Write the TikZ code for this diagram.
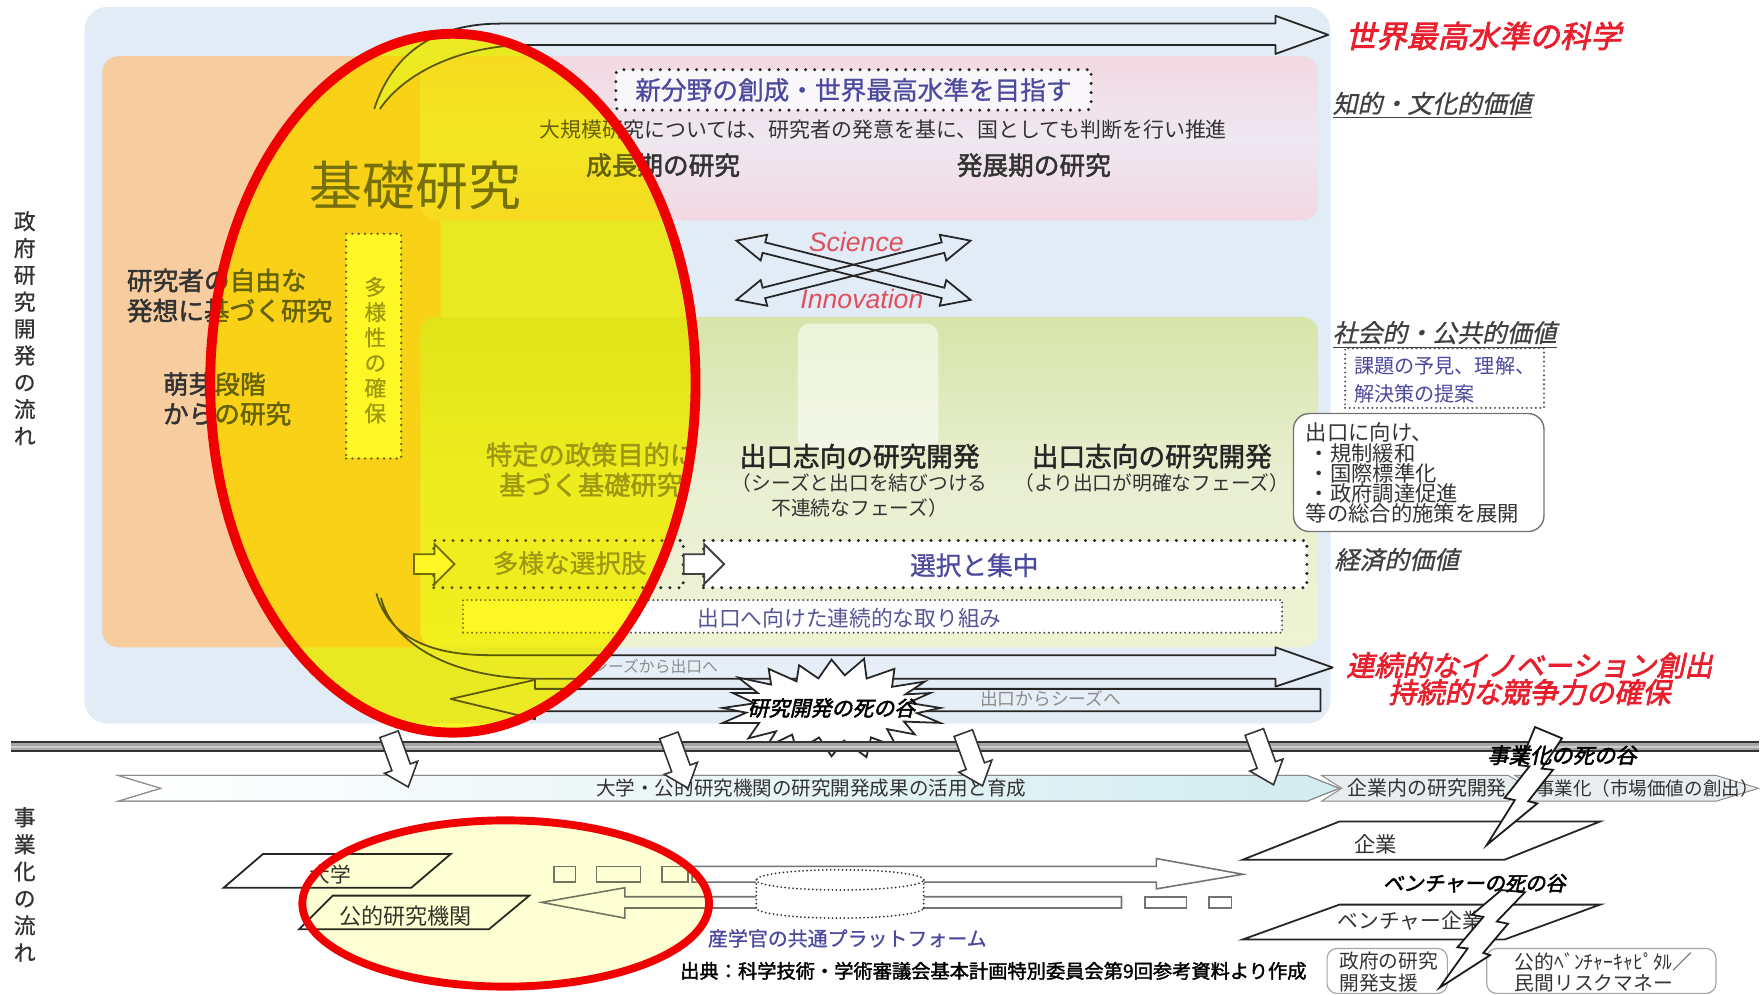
\documentclass[tikz,border=0pt]{standalone}
\usepackage{fontspec}
\setmainfont{Noto Sans CJK JP}
\newfontfamily\jp{Noto Sans CJK JP}
\newfontfamily\jpm{Noto Sans CJK JP}[FakeBold=0.8]
\newfontfamily\jpb{Noto Sans CJK JP}[FakeBold=1.8]
\newfontfamily\jpi{Noto Sans CJK JP}[FakeSlant=0.22,FakeBold=0.8]
\newfontfamily\jpbi{Noto Sans CJK JP}[FakeSlant=0.22,FakeBold=2.4]
\newfontfamily\arl{Liberation Sans}
\newcommand\fsz[2]{\fontsize{#1pt}{#2pt}\selectfont}
\usetikzlibrary{shapes.arrows}
\definecolor{bgblue}{HTML}{E2ECF7}
\definecolor{orng}{HTML}{F7CDA0}
\definecolor{pinkA}{HTML}{F3D8E1}
\definecolor{pinkB}{HTML}{EEE8F1}
\definecolor{grnA}{HTML}{D6E5AA}
\definecolor{grnB}{HTML}{E9EFD2}
\definecolor{grnC}{HTML}{EEF3D2}
\definecolor{navy}{HTML}{4B4A9E}
\definecolor{redt}{HTML}{E8202E}
\definecolor{redl}{HTML}{F00000}
\definecolor{ylw}{RGB}{255,250,50}
\definecolor{ylw2}{RGB}{255,255,212}
\definecolor{scired}{HTML}{E0505C}
\definecolor{txtg}{HTML}{7E7E7E}
\definecolor{txtd}{HTML}{333333}
\definecolor{arrowfill}{HTML}{E6EEF8}
\definecolor{bandcyan}{HTML}{D3ECEF}
\definecolor{bandgray}{HTML}{E8EDEF}
\tikzset{
 t/.style={inner sep=0pt, outer sep=0pt},
 arrline/.style={draw=black!85, line width=0.9pt, line join=round},
 dotbig/.style={draw=black!85, line width=1.7pt, dash pattern=on 0pt off 4.6pt, line cap=round},
 dotmid/.style={draw=black!80, line width=1.3pt, dash pattern=on 0pt off 3.2pt, line cap=round},
 dotsmall/.style={draw=black!70, line width=1.1pt, dash pattern=on 0pt off 2.3pt, line cap=round},
 cyl/.style={draw=black!80, line width=1pt, dash pattern=on 0pt off 2pt, line cap=round},
 xarrow/.style={double arrow, draw=black!85, line width=0.9pt, minimum height=4.3cm, inner xsep=0pt, inner ysep=0.08cm, double arrow head extend=0.14cm, double arrow tip angle=50},
 dnarrow/.style={single arrow, draw=black!80, fill=white, line width=0.8pt, minimum height=1cm, inner xsep=0pt, inner ysep=0.16cm, single arrow head extend=0.14cm, single arrow tip angle=80, rotate=-70},
 harrow/.style={single arrow, draw=black!75, fill=white, line width=0.9pt, minimum height=0.72cm, inner xsep=0pt, inner ysep=0.16cm, single arrow head extend=0.18cm},
 para/.style={draw=black!85, line width=0.9pt, fill=white},
 band/.style={draw=black!45, line width=0.5pt},
 bolt/.style={draw=black!90, line width=0.9pt, fill=white, line join=miter},
 gbox/.style={draw=black!35, line width=0.6pt, rounded corners=5pt},
 plat/.style={draw=black!55, line width=0.8pt, fill=white},
}
\begin{document}
\begin{tikzpicture}[x=0.02cm,y=-0.02cm]
\useasboundingbox (0,0) rectangle (1568,884.6);
\fill[white] (0,0) rectangle (1568,884.6);

% ---------- backgrounds
\fill[bgblue, rounded corners=12] (75,6) rectangle (1184,644);
\fill[orng, rounded corners=8] (91,50) rectangle (392,576);
\shade[top color=pinkA, bottom color=pinkA, middle color=pinkB, rounded corners=8] (374,50) rectangle (1173,196);
\shade[top color=grnA, bottom color=grnC, middle color=grnB, rounded corners=8] (374,282) rectangle (1173,576);
\fill[white, opacity=0.55, rounded corners=6] (710,288) rectangle (835,400);

% ---------- left side titles
\node[t, align=center, font=\jpm\fsz{11}{13.6}, text=txtd] (gov) at (22,292) {政\\府\\研\\究\\開\\発\\の\\流\\れ};
\node[t, align=center, font=\jpm\fsz{11}{13.7}, text=txtd] (biz) at (22,787) {事\\業\\化\\の\\流\\れ};

% ---------- top arrow (world-class science)
\draw[arrline, fill=arrowfill] (333,97) .. controls (350,45) and (390,21) .. (445,21) -- (1135,21) -- (1135,14) -- (1182,31) -- (1135,48) -- (1135,40) -- (470,40) .. controls (415,40) and (362,62) .. (338,97);

% ---------- pink band contents
\node[t, dotbig, fill=white!65!pinkB, minimum width=8.46cm, minimum height=0.72cm, rounded corners=2pt] (nfbox) at (759.5,80) {};
\node[t, font=\jpm\fsz{13}{13}, text=navy] (nf) at (nfbox.center) {新分野の創成・世界最高水準を目指す};
\node[t, font=\jp\fsz{10.6}{10.6}, text=txtd] (large) at (786,115) {大規模研究については、研究者の発意を基に、国としても判断を行い推進};
\node[t, font=\jpb\fsz{13}{13}, text=txtd] (grow) at (590,147) {成長期の研究};
\node[t, font=\jpb\fsz{13}{13}, text=txtd] (dev) at (920,147) {発展期の研究};
\node[t, font=\jp\fsz{26.8}{26.8}, text=black!72] (kiso) at (370,165) {基礎研究};

% ---------- science / innovation cross
\node[xarrow, rotate=-14.2] (xa) at (759.5,240.5) {};
\node[xarrow, rotate=14.2] (xb) at (759.5,240.5) {};
\node[t, font=\arl\itshape\fsz{13.5}{13.5}, text=scired] (sci) at (762,215) {Science};
\node[t, font=\arl\itshape\fsz{13.5}{13.5}, text=scired] (inno) at (767,266) {Innovation};

% ---------- orange area texts
\node[t, anchor=west, align=left, font=\jpb\fsz{13}{15.3}, text=txtd] (free) at (113,263) {研究者の自由な\\発想に基づく研究};
\node[t, anchor=west, align=left, font=\jpb\fsz{13}{15}, text=txtd] (germ) at (145,355) {萌芽段階\\からの研究};
\node[t, dotmid, fill=white, minimum width=0.98cm, minimum height=4cm] (divbox) at (332.5,308) {};
\node[t, align=center, font=\jpm\fsz{11}{12.8}, text=txtg] (div) at (334,311.5) {多\\様\\性\\の\\確\\保};

% ---------- green band texts
\node[t, align=center, font=\jpb\fsz{13.3}{15.3}, text=txtg] (policy) at (526,418) {特定の政策目的に\\基づく基礎研究};
\node[t, font=\jpb\fsz{13.5}{13.5}, text=black!85] (exit1) at (765,406) {出口志向の研究開発};
\node[t, align=center, font=\jp\fsz{10}{12.5}, text=txtd] (exit1s) at (765,441) {（シーズと出口を結びつける\\不連続なフェーズ）};
\node[t, font=\jpb\fsz{13.5}{13.5}, text=black!85] (exit2) at (1025,406) {出口志向の研究開発};
\node[t, font=\jp\fsz{10}{10}, text=txtd] (exit2s) at (1025,430) {（より出口が明確なフェーズ）};

% ---------- dotted boxes row
\node[t, dotbig, minimum width=4.44cm, minimum height=0.84cm] (tayobox) at (497,502) {};
\node[t, font=\jpm\fsz{13}{13}, text=txtg] (tayo) at (507,501) {多様な選択肢};
\node[t, dotbig, fill=white, minimum width=10.74cm, minimum height=0.84cm] (selbox) at (894.5,502) {};
\node[t, font=\jpm\fsz{13}{13}, text=navy] (sel) at (867,503) {選択と集中};
\node[harrow] (ha1) at (382,502) {};
\node[harrow] (ha2) at (622,502) {};
\node[t, dotsmall, fill=white, minimum width=14.58cm, minimum height=0.58cm] (contbox) at (776.5,548.5) {};
\node[t, font=\jp\fsz{11}{11}, text=navy!80!gray] (cont) at (756,550) {出口へ向けた連続的な取り組み};

% ---------- lower arrows of upper part
\draw[arrline, fill=arrowfill] (335,528) .. controls (345,565) and (380,583) .. (435,583) -- (1135,583) -- (1135,576) -- (1186,594) -- (1135,611) -- (1135,604) -- (480,604) .. controls (405,604) and (350,575) .. (339,532);
\node[t, font=\jp\fsz{8}{8}, text=black!45] (s2e) at (583,593) {シーズから出口へ};
\draw[arrline, fill=arrowfill] (401,622) -- (476,605) -- (476,613) -- (1175,613) -- (1175,633) -- (476,633) -- (476,640) -- cycle;
\node[t, font=\jp\fsz{9}{9}, text=black!45] (e2s) at (935,622) {出口からシーズへ};
\draw[draw=black!85, line width=0.9pt, fill=white, line join=miter] plot[samples at={0,9,...,351}] ({740+(97-24*mod(round(\x/9),2))*(1+0.06*sin(7*\x))*cos(\x)}, {630+(43-15*mod(round(\x/9),2))*(1+0.07*cos(5*\x))*sin(\x)}) -- cycle;
\node[t, font=\jpbi\fsz{10.6}{10.6}] (valley) at (740,630) {研究開発の死の谷};

% ---------- separator
\fill[black!35] (10,660) rectangle (1565,669);
\draw[black!80, line width=0.8pt] (10,660.5) -- (1565,660.5);
\draw[black!80, line width=0.8pt] (10,668.5) -- (1565,668.5);
\draw[white!80!black, line width=0.9pt] (10,664.5) -- (1565,664.5);

% ---------- timeline bands
\shade[band, left color=white, right color=bandcyan] (105,690) -- (1163,690) -- (1192,701.5) -- (1163,713) -- (105,713) -- (143,701.5) -- cycle;
\draw[band] (105,690) -- (1163,690) -- (1192,701.5) -- (1163,713) -- (105,713) -- (143,701.5) -- cycle;
\filldraw[band, fill=bandgray] (1176,690) -- (1342,690) -- (1362,701.5) -- (1342,713) -- (1176,713) -- (1194,701.5) -- cycle;
\filldraw[band, fill=bandgray] (1348,690) -- (1527,690) -- (1565,701.5) -- (1527,713) -- (1348,713) -- (1367,701.5) -- cycle;
\node[t, font=\jp\fsz{9.9}{9.9}, text=txtd] (tl1) at (722,701.5) {大学・公的研究機関の研究開発成果の活用と育成};
\node[t, font=\jp\fsz{10.1}{10.1}, text=txtd] (tl2) at (1270,701.5) {企業内の研究開発};
\node[t, font=\jp\fsz{9.4}{9.4}, text=txtd] (tl3) at (1466,701.5) {事業化（市場価値の創出）};

% ---------- down arrows
\node[dnarrow] (da1) at (353,672) {};
\node[dnarrow] (da2) at (602,673) {};
\node[dnarrow] (da3) at (864,671) {};
\node[dnarrow] (da4) at (1123,670) {};

% ---------- parallelograms
\filldraw[para] (234,760) -- (401,760) -- (366,790) -- (199,790) -- cycle;
\node[t, font=\jp\fsz{10.5}{10.5}, text=txtd] (univ) at (294,778) {大学};
\filldraw[para] (296,797) -- (471,797) -- (435,827) -- (266,827) -- cycle;
\node[t, font=\jp\fsz{11.2}{11.2}, text=txtd] (pub) at (361,815) {公的研究機関};
\filldraw[para] (1192,731) -- (1424,731) -- (1339,765) -- (1106,765) -- cycle;
\node[t, font=\jp\fsz{10.8}{10.8}, text=txtd] (corp) at (1224,751) {企業};
\filldraw[para] (1192,805) -- (1424,805) -- (1339,836) -- (1106,836) -- cycle;
\node[t, font=\jp\fsz{10.5}{10.5}, text=txtd] (vent) at (1255,819) {ベンチャー企業};

% ---------- platform arrows and cylinder
\draw[plat] (493,771) rectangle (512,785);
\draw[plat] (531,771) rectangle (570,785);
\draw[plat] (589,771) rectangle (612,785);
\draw[plat] (616,771) -- (1029,771) -- (1029,764) -- (1106,778) -- (1029,791) -- (1029,785) -- (616,785) -- cycle;
\draw[plat] (482,803) -- (556,790) -- (556,798) -- (998,798) -- (998,808) -- (556,808) -- (556,817) -- cycle;
\draw[plat] (1019,798) rectangle (1056,808);
\draw[plat] (1076,798) rectangle (1096,808);
\fill[white] (747.5,808) ellipse [x radius=1.49cm, y radius=0.18cm];
\draw[cyl] (747.5,808) ellipse [x radius=1.49cm, y radius=0.18cm];
\fill[white] (673,783) rectangle (822,808);
\draw[cyl] (673,783) -- (673,808);
\draw[cyl] (822,783) -- (822,808);
\filldraw[cyl, fill=white] (747.5,783) ellipse [x radius=1.49cm, y radius=0.18cm];
\node[t, font=\jpm\fsz{10.1}{10.1}, text=navy] (platform) at (754,835) {産学官の共通プラットフォーム};
\node[t, font=\jpb\fsz{9.75}{9.75}] (src) at (884,864) {出典：科学技術・学術審議会基本計画特別委員会第9回参考資料より作成};

% ---------- bottom-right boxes
\node[t, gbox, minimum width=2.14cm, minimum height=0.8cm] (govbox) at (1234.5,864) {};
\node[t, anchor=west, align=left, font=\jp\fsz{10}{10.8}, text=txtd] (govs) at (1192,865) {政府の研究\\開発支援};
\node[t, gbox, minimum width=4.08cm, minimum height=0.8cm] (vcbox) at (1425,864) {};
\node[t, anchor=west, align=left, font=\jp\fsz{10}{10.8}, text=txtd] (vc) at (1348,865) {公的ﾍﾞﾝﾁｬｰｷｬﾋﾟﾀﾙ／\\民間リスクマネー};

% ---------- lightning bolts
\filldraw[bolt] (1366,647) -- (1390,657) -- (1372,684) -- (1382,685) -- (1360,713) -- (1368,715) -- (1323,752) -- (1348,712) -- (1339,710) -- (1361,682) -- (1352,681) -- cycle;
\node[t, font=\jpbi\fsz{10.8}{10.8}] (bizvalley) at (1390,672) {事業化の死の谷};
\filldraw[bolt] (1336,792) -- (1357,794) -- (1332,820) -- (1342,822) -- (1320,848) -- (1326,850) -- (1281,879) -- (1306,844) -- (1297,843) -- (1320,816) -- (1310,814) -- cycle;
\node[t, font=\jpbi\fsz{10.3}{10.3}] (ventvalley) at (1312,786) {ベンチャーの死の谷};

% ---------- right-side labels
\node[t, anchor=west, font=\jpi\fsz{12.6}{12.6}, text=black!75] (chiteki) at (1186,92) {知的・文化的価値};
\draw[black!75, line width=0.6pt] ([yshift=-1.5pt]chiteki.south west) -- ([yshift=-1.5pt]chiteki.south east);
\node[t, anchor=west, font=\jpi\fsz{12.6}{12.6}, text=black!75] (shakai) at (1186,296) {社会的・公共的価値};
\draw[black!75, line width=0.6pt] ([yshift=-1.5pt]shakai.south west) -- ([yshift=-1.5pt]shakai.south east);
\node[t, dotsmall, minimum width=3.54cm, minimum height=1.06cm] (kadaibox) at (1285.5,336.5) {};
\node[t, anchor=west, align=left, font=\jp\fsz{10.2}{14.2}, text=navy] (kadai) at (1205,338) {課題の予見、理解、\\解決策の提案};
\node[t, draw=black!55, line width=0.7pt, rounded corners=8pt, fill=white, minimum width=4.46cm, minimum height=2.1cm] (measbox) at (1262.5,420.5) {};
\node[t, anchor=west, align=left, font=\jp\fsz{10.8}{10.2}, text=txtd] (meas) at (1162,421) {出口に向け、\\\hspace*{0.15em}・規制緩和\\\hspace*{0.15em}・国際標準化\\\hspace*{0.15em}・政府調達促進\\等の総合的施策を展開};
\node[t, font=\jpi\fsz{12.6}{12.6}, text=black!75] (keizai) at (1243,498) {経済的価値};
\node[t, font=\jpbi\fsz{15.5}{15.5}, text=redt] (worldsci) at (1320,32) {世界最高水準の科学};
\node[t, align=center, font=\jpbi\fsz{14.3}{13.6}, text=redt] (innov) at (1361,604) {連続的なイノベーション創出\\持続的な競争力の確保};

% ---------- highlight ellipses
\begin{scope}[blend mode=multiply]
\fill[ylw] (403,341) ellipse [x radius=4.32cm, y radius=6.22cm];
\fill[ylw2] (450,804) ellipse [x radius=3.62cm, y radius=1.48cm];
\end{scope}
\fill[yellow, opacity=0.25] (403,341) ellipse [x radius=4.32cm, y radius=6.22cm];
\draw[redl, line width=5pt] (403,341) ellipse [x radius=4.32cm, y radius=6.22cm];
\draw[redl, line width=4pt] (450,804) ellipse [x radius=3.62cm, y radius=1.48cm];
\end{tikzpicture}
\end{document}
